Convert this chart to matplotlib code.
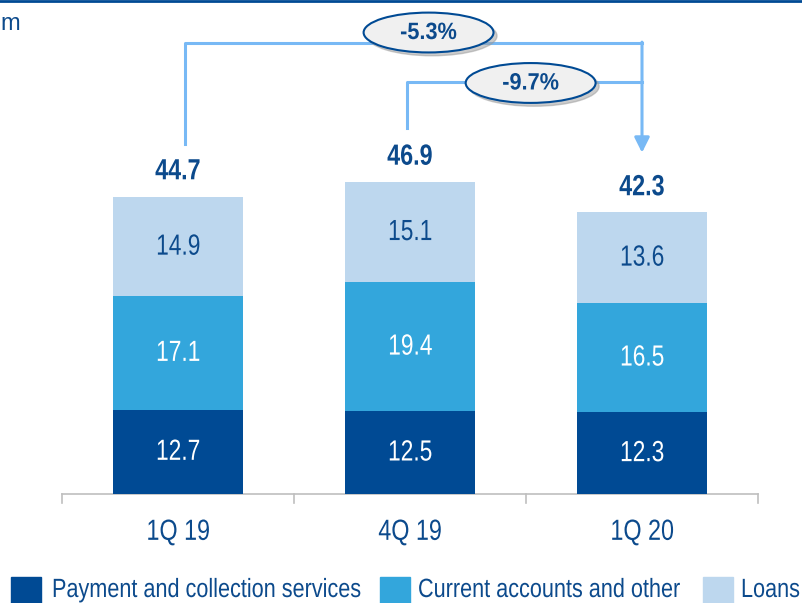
import numpy as np
import matplotlib.pyplot as plt
from matplotlib.patches import Ellipse, Rectangle
from matplotlib.patheffects import AbstractPathEffect
from matplotlib.transforms import Affine2D

# datos del grafico (EUR m)
trimestres = ['1Q 19', '4Q 19', '1Q 20']
pagos = [12.7, 12.5, 12.3]
cuentas = [17.1, 19.4, 16.5]
prestamos = [14.9, 15.1, 13.6]
totales = [44.7, 46.9, 42.3]
variaciones = ['-5.3%', '-9.7%']
series = ['Payment and collection services', 'Current accounts and other', 'Loans']

c_oscuro = '#004A94'
c_medio = '#33A6DC'
c_claro = '#BDD7EE'
c_texto = '#0C4A8C'
c_flecha = '#78B9F5'
fuente = ['Liberation Sans', 'DejaVu Sans']


# no hay fuente estrecha instalada: se comprime el texto en horizontal
class Estrecho(AbstractPathEffect):
    def __init__(self, s=0.8, centrado=True):
        super().__init__()
        self.s = s
        self.centrado = centrado

    def draw_path(self, renderer, gc, tpath, affine, rgbFace=None):
        desp = 0.0
        if self.centrado and len(tpath.vertices):
            ext = tpath.get_extents()
            desp = (1 - self.s) * (ext.x0 + ext.x1) / 2
        t = Affine2D().scale(self.s, 1).translate(desp, 0) + affine
        renderer.draw_path(gc, tpath, t, rgbFace)


fig = plt.figure(figsize=(8.02, 6.03), dpi=100)
ax = fig.add_axes([0, 0, 1, 1])
ax.set_xlim(-178 / 232, 624 / 232)
ax.set_ylim(-109 / 6.64, 494 / 6.64)
ax.axis('off')

x = np.arange(len(trimestres))
ancho = 0.56
base = np.zeros(len(x))
colores = [c_oscuro, c_medio, c_claro]
for vals, col, nom in zip([pagos, cuentas, prestamos], colores, series):
    ax.bar(x, vals, ancho, bottom=base, color=col, label=nom, zorder=2)
    tc = 'white' if col != c_claro else c_texto
    for xi, b, v in zip(x, base, vals):
        ax.text(xi, b + v / 2, f'{v:.1f}', ha='center', va='center', color=tc,
                fontsize=21, family=fuente, path_effects=[Estrecho(0.78)])
    base = base + np.array(vals)

for xi, t in zip(x, totales):
    ax.text(xi, t + 3.9, f'{t:.1f}', ha='center', va='center', color=c_texto,
            fontsize=21, fontweight='bold', family=fuente, path_effects=[Estrecho(0.8)])

# eje horizontal con marcas
ax.plot([-0.5, 2.5], [0, 0], color='#BFBFBF', lw=1.2, zorder=1)
for xt in [-0.5, 0.5, 1.5, 2.5]:
    ax.plot([xt, xt], [0, -1.4], color='#BFBFBF', lw=1.2)
for xi, lab in zip(x, trimestres):
    ax.text(xi, -5.7, lab, ha='center', va='center', color=c_texto, fontsize=21,
            family=fuente, path_effects=[Estrecho(0.8)])

# flechas de variacion
y1, y2 = 67.9, 62.0
ax.plot([x[0] + 0.03, x[0] + 0.03, x[2]], [totales[0] + 8, y1, y1], color=c_flecha, lw=2.2)
ax.plot([x[1] - 0.015, x[1] - 0.015, x[2]], [totales[1] + 8.2, y2, y2], color=c_flecha, lw=2.2)
ax.annotate('', xy=(x[2], totales[2] + 9.1), xytext=(x[2], y1 + 0.15),
            arrowprops=dict(arrowstyle='-|>,head_length=0.9,head_width=0.45',
                            color=c_flecha, lw=2.2, shrinkA=0, shrinkB=0))

for (cx, cy), txt in zip([(1.08, 69.5), (1.52, 61.9)], variaciones):
    ax.add_patch(Ellipse((cx + 0.015, cy - 0.5), 0.56, 6.0, color='#9A9A9A', alpha=0.5, zorder=3))
    ax.add_patch(Ellipse((cx, cy), 0.56, 6.0, facecolor='#F0F0F0', edgecolor=c_oscuro, lw=1.5, zorder=4))
    ax.text(cx, cy, txt, ha='center', va='center', color=c_texto, fontsize=17,
            fontweight='bold', family=fuente, zorder=5, path_effects=[Estrecho(0.92)])

ax.text(-178 / 232, 70.8, 'm', ha='left', va='center', color=c_texto, fontsize=17, family=fuente)
ax.axhline(74.3, color=c_oscuro, lw=2)

# leyenda
W, H = 802, 603
for xc, xt, col, nom in zip([11, 380, 703], [52, 418, 741], colores, series):
    fig.patches.append(Rectangle((xc / W, 1 - 604 / H), 30 / W, 27 / H, color=col,
                                 transform=fig.transFigure, figure=fig))
    fig.text(xt / W, 1 - 590 / H, nom, ha='left', va='center', color=c_texto, fontsize=19,
             family=fuente, path_effects=[Estrecho(0.82, centrado=False)])

fig.savefig('out.png', dpi=100)
